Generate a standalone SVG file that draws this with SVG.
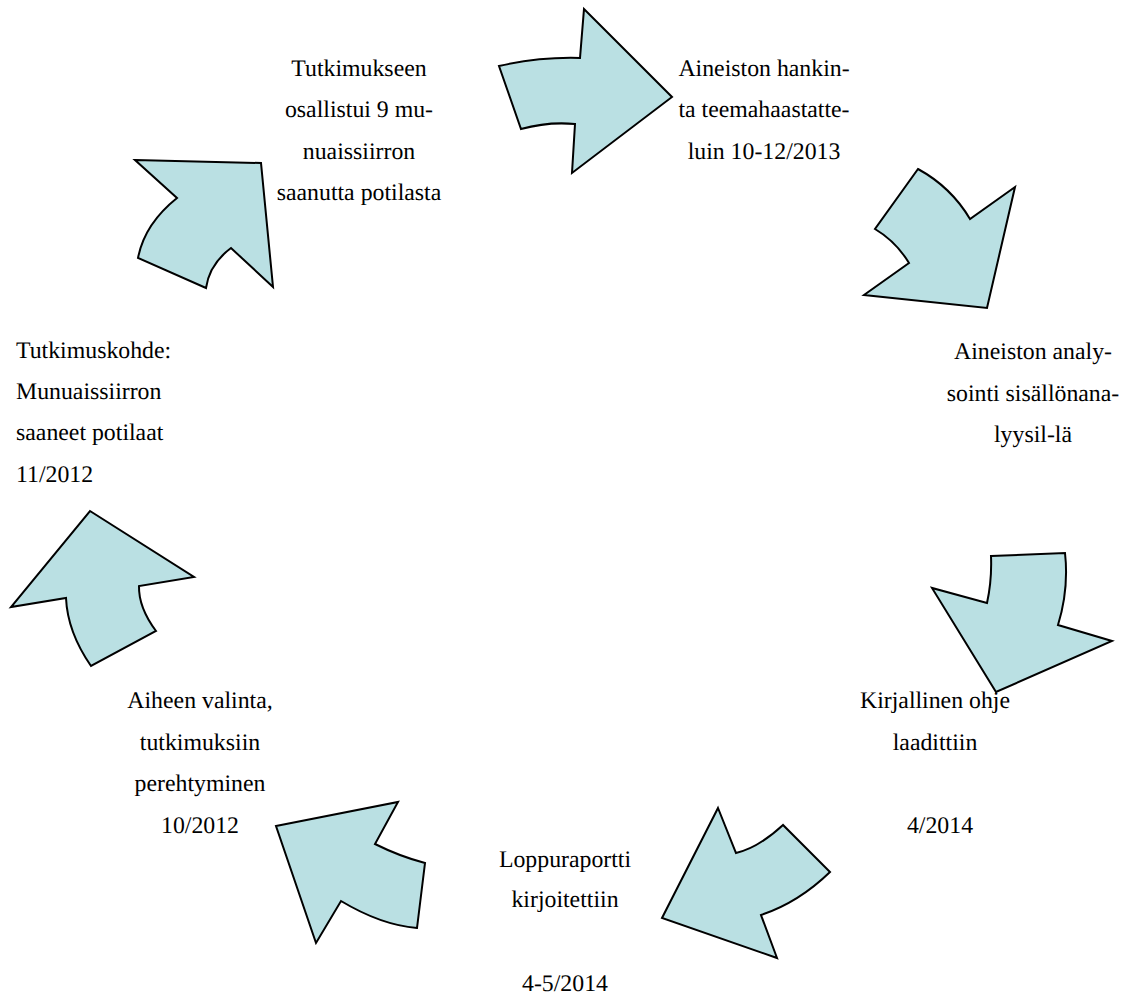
<svg xmlns="http://www.w3.org/2000/svg" width="1126" height="1001" viewBox="0 0 1126 1001">
<style>
.arrow{fill:#BAE0E3;stroke:#000;stroke-width:2;stroke-linejoin:miter}
text{font-family:'Liberation Serif','Times New Roman',serif;font-size:23.8px;fill:#000;text-rendering:geometricPrecision}
.c{text-anchor:middle}
</style>
<rect width="1126" height="1001" fill="#fff"/>
<g id="connectors">
<path class="arrow" d="M499,66 Q539.5,56.8 580,58 L584,9 L672,97 L572,173 L575,124 Q548,121.5 521,129 Z"/>
<path class="arrow" d="M918,169 Q951,187 970,219 L1015,187 L987,308 L864,295 L909,263 Q896,241.5 875,229 Z"/>
<path class="arrow" d="M991,556 L1065,553 Q1069,589 1058,625 L1112,641 L996,692 L932,588 L987,603 Q992,580 991,556 Z"/>
<path class="arrow" d="M718,808 L736,853 Q758,848 783,825 L830,872 Q798.5,902.5 761,915 L777,958 L662,918 Z"/>
<path class="arrow" d="M276,826 L398,802 L375,844 Q400,856.5 425,863 L417,928 Q381,925 341,901 L316,943 Z"/>
<path class="arrow" d="M90,511 L194,577 L139,586 Q138.5,607.5 156,631 L91,666 Q67.5,632 66,598 L11,607 Z"/>
<path class="arrow" d="M135,160 L261,163 L273,287 L231,248 Q209.5,264 206,288 L138,258 Q144.5,224 177,198 Z"/>
</g>
<g id="node-osallistujat" class="c">
<text x="359" y="76">Tutkimukseen</text>
<text x="359" y="117">osallistui 9 mu-</text>
<text x="359" y="159">nuaissiirron</text>
<text x="359" y="200">saanutta potilasta</text>
</g>
<g id="node-hankinta" class="c">
<text x="764" y="76">Aineiston hankin-</text>
<text x="764" y="117">ta teemahaastatte-</text>
<text x="764" y="159">luin 10-12/2013</text>
</g>
<g id="node-analyysi" class="c">
<text x="1033" y="359">Aineiston analy-</text>
<text x="1033" y="401">sointi sisällönana-</text>
<text x="1033" y="442">lyysil-lä</text>
</g>
<g id="node-kohde">
<text x="16" y="358">Tutkimuskohde:</text>
<text x="16" y="399">Munuaissiirron</text>
<text x="16" y="440">saaneet potilaat</text>
<text x="16" y="482">11/2012</text>
</g>
<g id="node-ohje" class="c">
<text x="935" y="708">Kirjallinen ohje</text>
<text x="935" y="750">laadittiin</text>
<text x="940" y="833">4/2014</text>
</g>
<g id="node-loppuraportti" class="c">
<text x="565" y="867">Loppuraportti</text>
<text x="565" y="907">kirjoitettiin</text>
<text x="565" y="991">4-5/2014</text>
</g>
<g id="node-aihe" class="c">
<text x="200" y="708">Aiheen valinta,</text>
<text x="200" y="750">tutkimuksiin</text>
<text x="200" y="791">perehtyminen</text>
<text x="200" y="833">10/2012</text>
</g>
</svg>
